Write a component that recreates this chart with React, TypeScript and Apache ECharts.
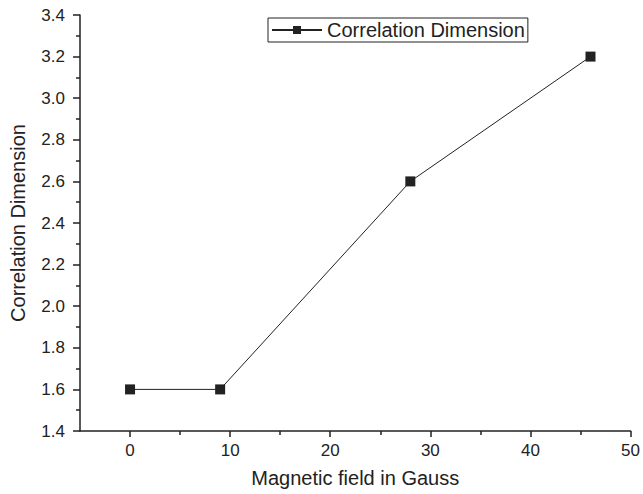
import React, { useEffect, useRef } from "react";
import * as echarts from "echarts";

const fieldGauss = [0, 9, 28, 46];
const correlationDim = [1.6, 1.6, 2.6, 3.2];
const seriesName = "Correlation Dimension";
const xTitle = "Magnetic field in Gauss";
const yTitle = "Correlation Dimension";
const xMajorTicks = [0, 10, 20, 30, 40, 50];
const xMinorTicks = [5, 15, 25, 35, 45];

const FONT = "'Liberation Sans', Arial, Helvetica, sans-serif";
const INK = "#222";

export default function App() {
  const ref = useRef<HTMLDivElement>(null);
  useEffect(() => {
    if (!ref.current) return;
    const chart = echarts.init(ref.current, null, { renderer: "svg" });
    const line = { color: INK, width: 1.5 };
    chart.setOption({
      animation: false,
      backgroundColor: "#fff",
      grid: { left: 80, right: 11, top: 15, bottom: 63, containLabel: false },
      legend: {
        left: 268,
        top: 18,
        data: [seriesName],
        borderColor: INK,
        borderWidth: 1,
        borderRadius: 0,
        padding: [2, 3, 2, 3],
        itemWidth: 50,
        itemHeight: 10,
        textStyle: { color: INK, fontFamily: FONT, fontSize: 20 },
      },
      xAxis: [
        {
          type: "value",
          min: -5,
          max: 50,
          axisLine: { show: true, onZero: false, lineStyle: line },
          axisTick: { show: true, length: 6, lineStyle: line, customValues: xMajorTicks },
          splitLine: { show: false },
          axisLabel: {
            color: INK,
            fontFamily: FONT,
            fontSize: 17,
            margin: 11,
            customValues: xMajorTicks,
          },
          name: xTitle,
          nameLocation: "middle",
          nameGap: 37,
          nameTextStyle: { color: INK, fontFamily: FONT, fontSize: 20 },
        },
        {
          // minor ticks halfway between the labelled ticks
          type: "value",
          min: -5,
          max: 50,
          position: "bottom",
          offset: 0,
          axisLine: { show: false },
          axisTick: { show: true, length: 4, lineStyle: line, customValues: xMinorTicks },
          axisLabel: { show: false },
          splitLine: { show: false },
        },
      ],
      yAxis: {
        type: "value",
        min: 1.4,
        max: 3.4,
        interval: 0.2,
        axisLine: { show: true, onZero: false, lineStyle: line },
        axisTick: { show: true, length: 7, lineStyle: line },
        minorTick: { show: true, splitNumber: 2, length: 4, lineStyle: line },
        splitLine: { show: false },
        axisLabel: {
          color: INK,
          fontFamily: FONT,
          fontSize: 17,
          margin: 15,
          formatter: (v: number) => v.toFixed(1),
        },
        name: yTitle,
        nameLocation: "middle",
        nameGap: 52,
        nameTextStyle: { color: INK, fontFamily: FONT, fontSize: 20 },
      },
      series: [
        {
          name: seriesName,
          type: "line",
          data: fieldGauss.map((x, i) => [x, correlationDim[i]]),
          symbol: "rect",
          symbolSize: 10,
          lineStyle: { color: INK, width: 1 },
          itemStyle: { color: INK },
        },
      ],
    });
    return () => chart.dispose();
  }, []);
  return <div ref={ref} style={{ width: 643, height: 494, position: "absolute", left: 0, top: 0 }} />;
}
